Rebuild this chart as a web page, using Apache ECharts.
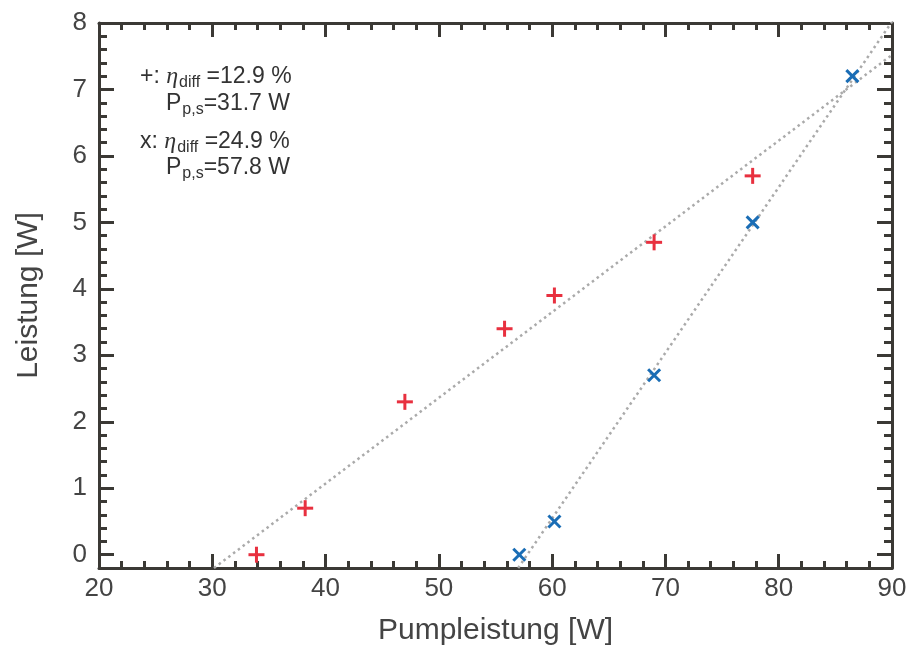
<!DOCTYPE html>
<html>
<head>
<meta charset="utf-8">
<script src="https://cdn.jsdelivr.net/npm/echarts@6/dist/echarts.min.js"></script>
<style>html,body{margin:0;padding:0;background:#fff;}#c{width:914px;height:648px;}</style>
</head>
<body>
<div id="c"></div>
<script>
// ---- data ----
const redX = [33.9, 38.2, 47.0, 55.8, 60.2, 69.0, 77.7];
const redY = [0.0, 0.7, 2.3, 3.4, 3.9, 4.7, 5.7];
const blueX = [57.1, 60.2, 69.0, 77.7, 86.5];
const blueY = [0.0, 0.5, 2.7, 5.0, 7.2];
// fit lines (end points)
const redFitX = [30.15, 90];
const redFitY = [-0.2, 7.52];
const blueFitX = [57.0, 90];
const blueFitY = [-0.2, 8.02];
// ticks
const yMajorTicks = [0, 1, 2, 3, 4, 5, 6, 7, 8];
const yMinorTicks = [];
for (let i = 0; i < 8; i++) for (let j = 1; j < 5; j++) yMinorTicks.push(+(i + j * 0.2).toFixed(1));

const annot = [
  '{m|+: }{e|η}{s|diff}{m| =12.9 %}',
  '{m|P}{s|p,s}{m|=31.7 W}',
  '{m|x: }{e|η}{s|diff}{m| =24.9 %}',
  '{m|P}{s|p,s}{m|=57.8 W}'
];

const FONT = "'Liberation Sans', Arial, sans-serif";
const AX = '#3b3935';
const TXT = '#444444';
const RED = '#e8303f';
const BLUE = '#1a6db5';

const zip = (a, b) => a.map((v, i) => [v, b[i]]);

function axisX(pos, showLabel) {
  return {
    type: 'value', position: pos, min: 20, max: 90, interval: 10,
    axisLine: { show: true, onZero: false, lineStyle: { color: AX, width: 3 } },
    axisTick: { show: true, inside: true, length: 14, lineStyle: { color: AX, width: 3 } },
    minorTick: { show: true, splitNumber: 5, length: 7, lineStyle: { color: AX, width: 3 } },
    splitLine: { show: false }, minorSplitLine: { show: false },
    axisLabel: { show: showLabel, fontSize: 26, color: TXT, fontFamily: FONT, margin: 8 },
    name: showLabel ? 'Pumpleistung [W]' : '',
    nameLocation: 'middle', nameGap: 48,
    nameTextStyle: { fontSize: 30, color: TXT, fontFamily: FONT }
  };
}
function axisY(pos, major, showLabel) {
  return {
    type: 'value', position: pos, min: -0.2, max: 8,
    axisLine: { show: major, onZero: false, lineStyle: { color: AX, width: 3 } },
    axisTick: { show: true, inside: true, length: major ? 15 : 8, customValues: major ? yMajorTicks : yMinorTicks,
      lineStyle: { color: AX, width: 3 } },
    splitLine: { show: false },
    axisLabel: { show: showLabel, customValues: yMajorTicks, fontSize: 26, color: TXT, fontFamily: FONT, margin: 12 },
    name: showLabel ? 'Leistung [W]' : '',
    nameLocation: 'middle', nameGap: 55, nameRotate: 90,
    nameTextStyle: { fontSize: 30, color: TXT, fontFamily: FONT }
  };
}

function marker(kind, color) {
  return function (params, api) {
    const p = api.coord([api.value(0), api.value(1)]);
    const st = { stroke: color, lineWidth: 3 };
    if (kind === 'plus') {
      const s = 8;
      return { type: 'group', children: [
        { type: 'line', shape: { x1: p[0] - s, y1: p[1], x2: p[0] + s, y2: p[1] }, style: st },
        { type: 'line', shape: { x1: p[0], y1: p[1] - s, x2: p[0], y2: p[1] + s }, style: st }
      ] };
    }
    const s = 6;
    return { type: 'group', children: [
      { type: 'line', shape: { x1: p[0] - s, y1: p[1] - s, x2: p[0] + s, y2: p[1] + s }, style: st },
      { type: 'line', shape: { x1: p[0] - s, y1: p[1] + s, x2: p[0] + s, y2: p[1] - s }, style: st }
    ] };
  };
}

const rich = {
  m: { fontSize: 23, fontFamily: FONT, color: '#333' },
  e: { fontSize: 24, fontFamily: "'Liberation Serif', serif", fontStyle: 'italic', color: '#333' },
  s: { fontSize: 16, fontFamily: FONT, color: '#333', padding: [12, 0, 0, 1] }
};
const annotPos = [[140, 77], [166, 104], [140, 142], [166, 168]];

const chart = echarts.init(document.getElementById('c'), null, { renderer: 'canvas' });
chart.setOption({
  animation: false,
  backgroundColor: '#fff',
  grid: { left: 99, right: 22, top: 23, bottom: 80, containLabel: false, outerBoundsMode: 'none' },
  xAxis: [axisX('bottom', true), axisX('top', false)],
  yAxis: [axisY('left', true, true), axisY('left', false, false), axisY('right', true, false), axisY('right', false, false)],
  series: [
    { type: 'line', data: zip(redFitX, redFitY), symbol: 'none', clip: true, z: 1,
      lineStyle: { color: '#aaaaaa', width: 2.5, type: [2.5, 3.5] } },
    { type: 'line', data: zip(blueFitX, blueFitY), symbol: 'none', clip: true, z: 1,
      lineStyle: { color: '#aaaaaa', width: 2.5, type: [2.5, 3.5] } },
    { type: 'custom', data: zip(redX, redY), renderItem: marker('plus', RED), z: 3 },
    { type: 'custom', data: zip(blueX, blueY), renderItem: marker('cross', BLUE), z: 3 }
  ],
  graphic: annot.map((t, i) => ({
    type: 'text', x: annotPos[i][0], y: annotPos[i][1], z: 10,
    style: { text: t, rich: rich, verticalAlign: 'middle', align: 'left', fill: '#333' }
  }))
});
</script>
</body>
</html>
